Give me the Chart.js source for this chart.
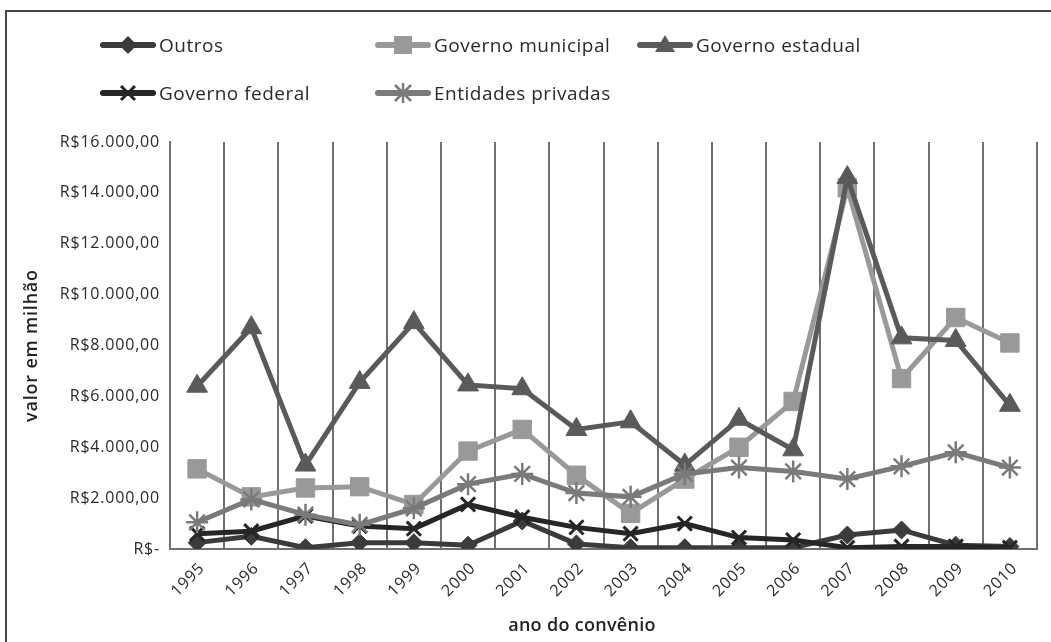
<!DOCTYPE html>
<html>
<head>
<meta charset="utf-8">
<script src="https://cdn.jsdelivr.net/npm/chart.js@4/dist/chart.umd.min.js"></script>
<style>
  html, body { margin: 0; padding: 0; background: #fff; }
  #wrap { position: relative; width: 1051px; height: 642px; overflow: hidden; background: #fff; font-family: "Open Sans", sans-serif; }
  #frame { position: absolute; left: 5px; top: 10px; width: 1060px; height: 700px; border-left: 2px solid #444; border-top: 2px solid #444; }
  #c { position: absolute; left: 0; top: 0; }
  .lg { position: absolute; display: flex; align-items: center; font-size: 19px; letter-spacing: 0.5px; color: #2a2a2a; white-space: nowrap; }
  .lg svg { display: block; margin-right: 3px; }
  #xtitle { position: absolute; top: 612px; left: 0; width: 1164px; text-align: center; font-size: 18px; font-weight: 600; color: #222; letter-spacing: 0.3px; }
</style>
</head>
<body>
<div id="wrap">
  <div id="frame"></div>
  <canvas id="c" width="1051" height="642"></canvas>
  <div id="legend"></div>
  <div id="xtitle">ano do convênio</div>
</div>
<script>
const years = ["1995","1996","1997","1998","1999","2000","2001","2002","2003","2004","2005","2006","2007","2008","2009","2010"];
const outros      = [250, 500, 50, 250, 250, 150, 1100, 200, 50, 50, 50, 50, 550, 750, 150, 100];
const municipal   = [3150, 2050, 2400, 2450, 1750, 3850, 4700, 2900, 1400, 2750, 4000, 5800, 14200, 6700, 9100, 8100];
const estadual    = [6400, 8700, 3300, 6550, 8900, 6450, 6300, 4700, 5000, 3300, 5100, 3900, 14600, 8300, 8200, 5650];
const federal     = [600, 700, 1300, 900, 800, 1750, 1250, 850, 600, 1000, 450, 350, 50, 100, 100, 50];
const privadas    = [1050, 1950, 1350, 950, 1600, 2550, 2950, 2200, 2050, 2950, 3200, 3050, 2750, 3250, 3800, 3200];
const yTicks      = [0, 2000, 4000, 6000, 8000, 10000, 12000, 14000, 16000];
const seriesNames = ["Outros", "Governo municipal", "Governo estadual", "Governo federal", "Entidades privadas"];

const styles = [
  { color: "#3b3b3b", point: "rectRot",  radius: 9,  bw: 1, order: 5 },
  { color: "#999999", point: "rect",     radius: 13, bw: 1, order: 4 },
  { color: "#5a5a5a", point: "triangle", radius: 12, bw: 1, order: 3 },
  { color: "#262626", point: "crossRot", radius: 10, bw: 3, order: 2 },
  { color: "#7a7a7a", point: "star",     radius: 11, bw: 2.5, order: 1 }
];
const seriesData = [outros, municipal, estadual, federal, privadas];

function fmt(v) {
  if (v === 0) return "R$-";
  return "R$" + String(v).replace(/\B(?=(\d{3})+(?!\d))/g, ".") + ",00";
}

const datasets = seriesNames.map((name, i) => ({
  label: name,
  data: seriesData[i],
  borderColor: styles[i].color,
  backgroundColor: styles[i].color,
  pointBackgroundColor: styles[i].color,
  pointBorderColor: styles[i].color,
  pointStyle: styles[i].point,
  pointRadius: styles[i].radius,
  pointHoverRadius: styles[i].radius,
  pointBorderWidth: styles[i].bw,
  borderWidth: 5,
  tension: 0,
  order: styles[i].order
}));

const spacingPlugin = {
  id: "spacing",
  beforeDraw(chart) { chart.ctx.letterSpacing = "0.8px"; }
};

new Chart(document.getElementById("c"), {
  type: "line",
  data: { labels: years, datasets },
  plugins: [spacingPlugin],
  options: {
    responsive: false,
    animation: false,
    events: [],
    layout: { padding: { top: 142, right: 10, left: 0, bottom: 0 } },
    plugins: { legend: { display: false }, tooltip: { enabled: false } },
    scales: {
      x: {
        offset: true,
        grid: { offset: true, color: "#707070", lineWidth: 2, drawTicks: false },
        border: { color: "#707070", width: 2 },
        ticks: { maxRotation: 45, minRotation: 45, padding: 10, labelOffset: 5, color: "#2a2a2a", font: { family: "Open Sans", size: 16 } },
        afterFit: s => { s.height = 93; }
      },
      y: {
        min: 0, max: 16000,
        afterBuildTicks: s => { s.ticks = yTicks.map(v => ({ value: v })); },
        grid: { display: false, drawTicks: false },
        border: { color: "#707070", width: 2 },
        ticks: { padding: 10, color: "#2a2a2a", font: { family: "Open Sans", size: 16 }, callback: v => fmt(v) },
        title: { display: true, text: "valor em milhão", color: "#222", font: { family: "Open Sans", size: 18, weight: "600" }, padding: { top: 21, bottom: 0 } },
        afterFit: s => { s.width = 170; }
      }
    }
  }
});

// HTML legend with line + marker samples
const legendPos = [
  { x: 100, y: 45 }, { x: 375, y: 45 }, { x: 637, y: 45 },
  { x: 100, y: 93 }, { x: 375, y: 93 }
];
function markerSvg(i) {
  const c = styles[i].color;
  let m = "";
  if (i === 0) m = `<polygon points="28,4 37,13 28,22 19,13" fill="${c}"/>`;
  if (i === 1) m = `<rect x="19" y="4" width="18" height="18" fill="${c}"/>`;
  if (i === 2) m = `<polygon points="28,3 38,20 18,20" fill="${c}"/>`;
  if (i === 3) m = `<path d="M21,6 L35,20 M35,6 L21,20" stroke="${c}" stroke-width="3"/>`;
  if (i === 4) m = `<path d="M20,5 L36,21 M36,5 L20,21 M28,3 L28,23 M18,13 L38,13" stroke="${c}" stroke-width="2.5"/>`;
  return `<svg width="56" height="26" viewBox="0 0 56 26"><line x1="3" y1="13" x2="53" y2="13" stroke="${c}" stroke-width="6" stroke-linecap="round"/>${m}</svg>`;
}
const lg = document.getElementById("legend");
seriesNames.forEach((n, i) => {
  const d = document.createElement("div");
  d.className = "lg";
  d.style.left = legendPos[i].x + "px";
  d.style.top = (legendPos[i].y - 13) + "px";
  d.innerHTML = markerSvg(i) + `<span>${n}</span>`;
  lg.appendChild(d);
});
</script>
</body>
</html>
